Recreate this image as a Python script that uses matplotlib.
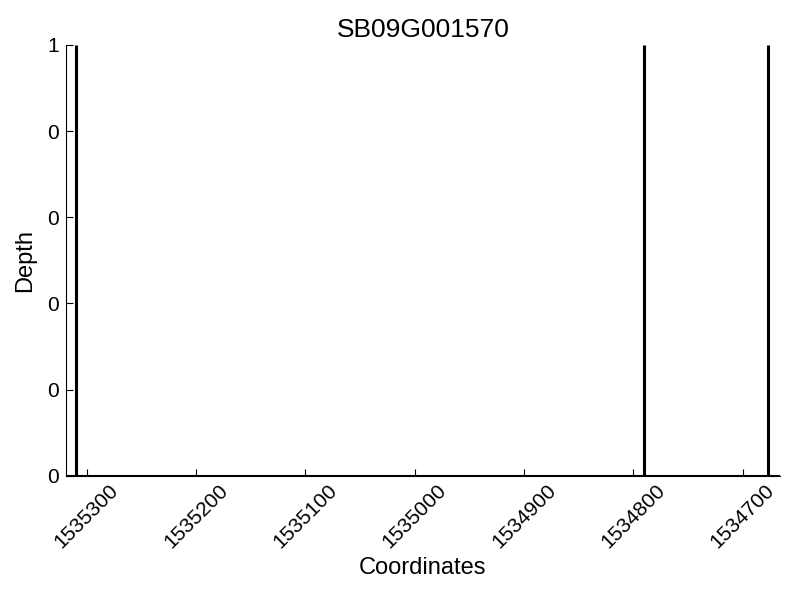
import matplotlib
matplotlib.use('Agg')
import matplotlib.pyplot as plt
from matplotlib.ticker import FormatStrFormatter, MultipleLocator

# coverage spikes along the gene region
gene = 'SB09G001570'
coords = [1535310, 1534790, 1534677]
depths = [1, 1, 1]
x_start, x_end = 1535319, 1534666

plt.rcParams['font.family'] = ['Liberation Sans', 'DejaVu Sans']

fig = plt.figure(figsize=(8, 6), dpi=100)
ax = fig.add_axes([0.0825, 0.207, 0.8925, 0.718])

ax.vlines(coords, 0, depths, color='black', linewidth=2.2)
ax.plot([x_start, x_end], [0, 0], color='black', linewidth=1.5)

ax.set_xlim(x_start, x_end)
ax.set_ylim(0, 1)
ax.xaxis.set_major_locator(MultipleLocator(100))
ax.xaxis.set_major_formatter(FormatStrFormatter('%d'))
ax.yaxis.set_major_locator(MultipleLocator(0.2))
ax.yaxis.set_major_formatter(FormatStrFormatter('%d'))

for side in ['top', 'right']:
    ax.spines[side].set_visible(False)
ax.tick_params(direction='in', length=5, labelsize=15, top=False, right=False)
ax.tick_params(axis='y', pad=5)
plt.setp(ax.get_xticklabels(), rotation=45)

ax.set_title(gene, fontsize=19)
ax.set_xlabel('Coordinates', fontsize=17)
ax.set_ylabel('Depth', fontsize=17, labelpad=8)

fig.savefig('out.png')
